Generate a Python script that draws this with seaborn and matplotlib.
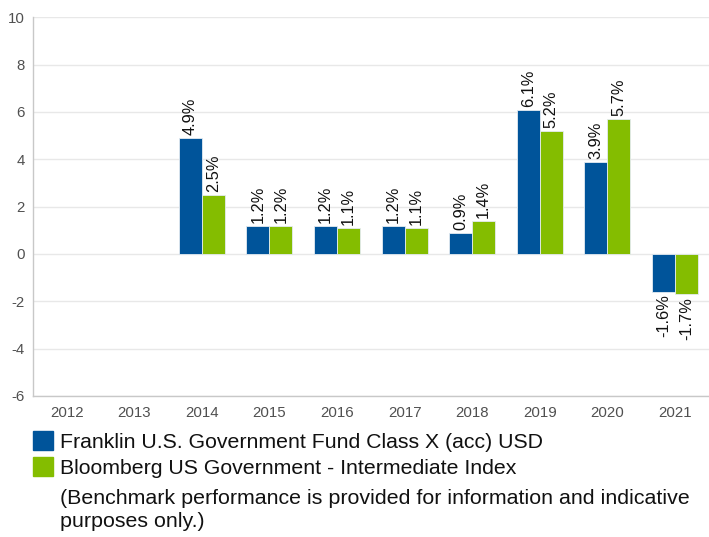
import numpy as np
import pandas as pd
import matplotlib
matplotlib.use("Agg")
import matplotlib.pyplot as plt
import seaborn as sns

years = ["2012", "2013", "2014", "2015", "2016", "2017", "2018", "2019", "2020", "2021"]
fund = [np.nan, np.nan, 4.9, 1.2, 1.2, 1.2, 0.9, 6.1, 3.9, -1.6]
bench = [np.nan, np.nan, 2.5, 1.2, 1.1, 1.1, 1.4, 5.2, 5.7, -1.7]
series = ["Franklin U.S. Government Fund Class X (acc) USD",
          "Bloomberg US Government - Intermediate Index"]
colors = ["#00549A", "#84BD00"]
yticks = [-6, -4, -2, 0, 2, 4, 6, 8, 10]
note = "(Benchmark performance is provided for information and indicative\npurposes only.)"

df = pd.DataFrame({
    "year": years * 2,
    "value": fund + bench,
    "series": [series[0]] * len(years) + [series[1]] * len(years),
}).dropna()

sns.set_theme(style="white")
plt.rcParams["font.family"] = ["Liberation Sans", "DejaVu Sans"]
plt.rcParams["axes.unicode_minus"] = False

fig = plt.figure(figsize=(7.09, 5.37), dpi=100)
ax = fig.add_axes([0.0465, 0.2626, 0.953, 0.7054])

sns.barplot(data=df, x="year", y="value", hue="series", order=years,
            hue_order=series, palette=colors, saturation=1, width=0.68,
            dodge=True, edgecolor="#e4ebf2", linewidth=0.6, legend=False, ax=ax)

for cont in ax.containers:
    ax.bar_label(cont, fmt=lambda v: f"{v:.1f}%", rotation=90, padding=2,
                 fontsize=11.8, color="#111111")

ax.set_ylim(-6, 10)
ax.set_yticks(yticks)
ax.set_xlim(-0.5, len(years) - 0.5)
ax.set_xlabel("")
ax.set_ylabel("")
ax.yaxis.grid(True, color="#e8e8e8", linewidth=1)
ax.set_axisbelow(True)
ax.tick_params(axis="both", length=0, labelsize=10.8, labelcolor="#505050")
ax.tick_params(axis="x", pad=7)
ax.tick_params(axis="y", pad=6)
for side in ["top", "right"]:
    ax.spines[side].set_visible(False)
for side in ["left", "bottom"]:
    ax.spines[side].set_color("#c8c8c8")
    ax.spines[side].set_linewidth(1)

handles = [plt.Rectangle((0, 0), 1, 1, color=c) for c in colors]
fig.legend(handles, series, loc="upper left", bbox_to_anchor=(0.047, 0.197),
           frameon=False, fontsize=15.3, handlelength=0.93, handleheight=1.0,
           handletextpad=0.33, labelspacing=0.25, borderpad=0, borderaxespad=0,
           labelcolor="#111111")
fig.text(0.0846, 0.089, note, fontsize=15.4, color="#111111", va="top",
         linespacing=1.22)

fig.savefig("out.png", dpi=100)
